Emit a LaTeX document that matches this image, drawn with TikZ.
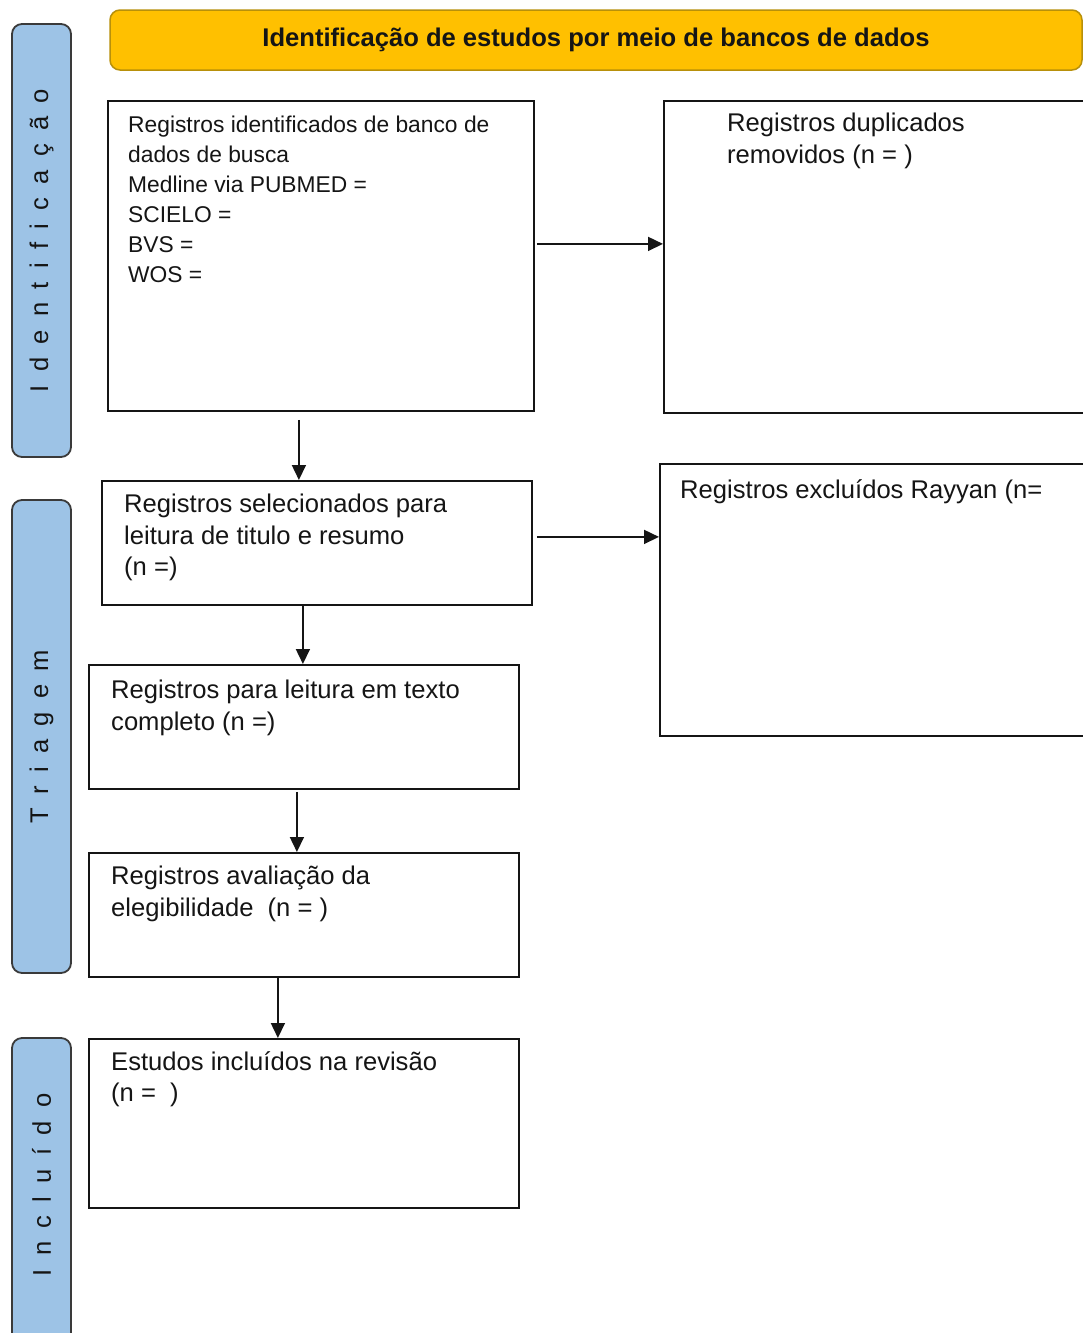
\documentclass[tikz,border=0pt]{standalone}
\usepackage{fontspec}
\setmainfont{Liberation Sans}
\usetikzlibrary{arrows.meta,calc}
\definecolor{sidefill}{HTML}{9DC3E6}
\definecolor{sideline}{HTML}{3A3A3A}
\definecolor{headfill}{HTML}{FFC000}
\definecolor{headline}{HTML}{B8900A}
\definecolor{ink}{HTML}{151515}
\newcommand\sbgap{\hspace{13.3pt}}
\begin{document}
\begin{tikzpicture}[x=1pt,y=1pt,
  sidebar/.style={draw=sideline, fill=sidefill, line width=1.8pt, rounded corners=10pt,
    rotate=90, minimum height=59pt, inner sep=0pt,
    font=\fontsize{25.6}{30}\selectfont, text=ink},
  header/.style={draw=headline, fill=headfill, line width=1.5pt, rounded corners=10pt,
    inner sep=0pt, font=\bfseries\fontsize{25.6}{30}\selectfont, text=ink},
  flowbox/.style={draw=ink, line width=1.8pt, anchor=north west, inner sep=0pt},
  boxtext/.style={anchor=north west, align=left, inner sep=0pt,
    font=\fontsize{25.6}{31.5}\selectfont, text=ink},
  arr/.style={draw=ink, line width=1.6pt, -{Triangle[length=15pt,width=14pt]}}
]
\useasboundingbox (0,0) rectangle (1083,-1333);
\fill[white] (0,0) rectangle (1083,-1333);

% sidebars
\node[sidebar, minimum width=433pt] (side1) at (41.5,-240.5)
  {I\sbgap d\sbgap e\sbgap n\sbgap t\sbgap i\sbgap f\sbgap i\sbgap c\sbgap a\sbgap ç\sbgap ã\sbgap o};
\node[sidebar, minimum width=473pt] (side2) at (41.5,-736.5)
  {T\sbgap r\sbgap i\sbgap a\sbgap g\sbgap e\sbgap m};
\node[sidebar, minimum width=312pt] (side3) at (41.5,-1194)
  {\hspace{18pt}I\sbgap n\sbgap c\sbgap l\sbgap u\sbgap í\sbgap d\sbgap o};

% header
\node[header, minimum width=972pt, minimum height=60pt] (head) at (596,-40)
  {Identificação de estudos por meio de bancos de dados};

% boxes
\node[flowbox, minimum width=426pt, minimum height=310pt,
  label={[boxtext, anchor=north west, shift={(21,-16)}, font=\fontsize{22.8}{30}\selectfont]north west:{Registros identificados de banco de\\dados de busca\\Medline via PUBMED =\\SCIELO =\\BVS =\\WOS =}}]
  (b1) at (107,-100) {};
\node[flowbox, minimum width=440pt, minimum height=312pt,
  label={[boxtext, anchor=north west, shift={(64,-13)}, font=\fontsize{25.6}{32}\selectfont]north west:{Registros duplicados\\removidos (n = )}}]
  (dup) at (663,-100) {};
\node[flowbox, minimum width=430pt, minimum height=124pt,
  label={[boxtext, anchor=north west, shift={(23,-14)}]north west:{Registros selecionados para\\leitura de titulo e resumo\\(n =)}}]
  (b2) at (101,-480) {};
\node[flowbox, minimum width=440pt, minimum height=272pt,
  label={[boxtext, anchor=north west, shift={(21,-16)}]north west:{Registros excluídos Rayyan (n=}}]
  (ray) at (659,-463) {};
\node[flowbox, minimum width=430pt, minimum height=124pt,
  label={[boxtext, anchor=north west, shift={(23,-16)}]north west:{Registros para leitura em texto\\completo (n =)}}]
  (b3) at (88,-664) {};
\node[flowbox, minimum width=430pt, minimum height=124pt,
  label={[boxtext, anchor=north west, shift={(23,-14)}]north west:{Registros avaliação da\\elegibilidade\ \ (n = )}}]
  (b4) at (88,-852) {};
\node[flowbox, minimum width=430pt, minimum height=169pt,
  label={[boxtext, anchor=north west, shift={(23,-13)}]north west:{Estudos incluídos na revisão\\(n =\ \ )}}]
  (b5) at (88,-1038) {};

% connectors
\draw[arr] ([shift={(2,12)}]b1.east) coordinate (a1) -- (a1 -| dup.west);
\draw[arr] ([shift={(-22,-8)}]b1.south) coordinate (a2) -- (a2 |- b2.north);
\draw[arr] ([shift={(4,6)}]b2.east) coordinate (a3) -- (a3 -| ray.west);
\draw[arr] ([xshift=-14]b2.south) coordinate (a4) -- (a4 |- b3.north);
\draw[arr] ([shift={(-7,-2)}]b3.south) coordinate (a5) -- (a5 |- b4.north);
\draw[arr] ([xshift=-26]b4.south) coordinate (a6) -- (a6 |- b5.north);
\end{tikzpicture}
\end{document}
